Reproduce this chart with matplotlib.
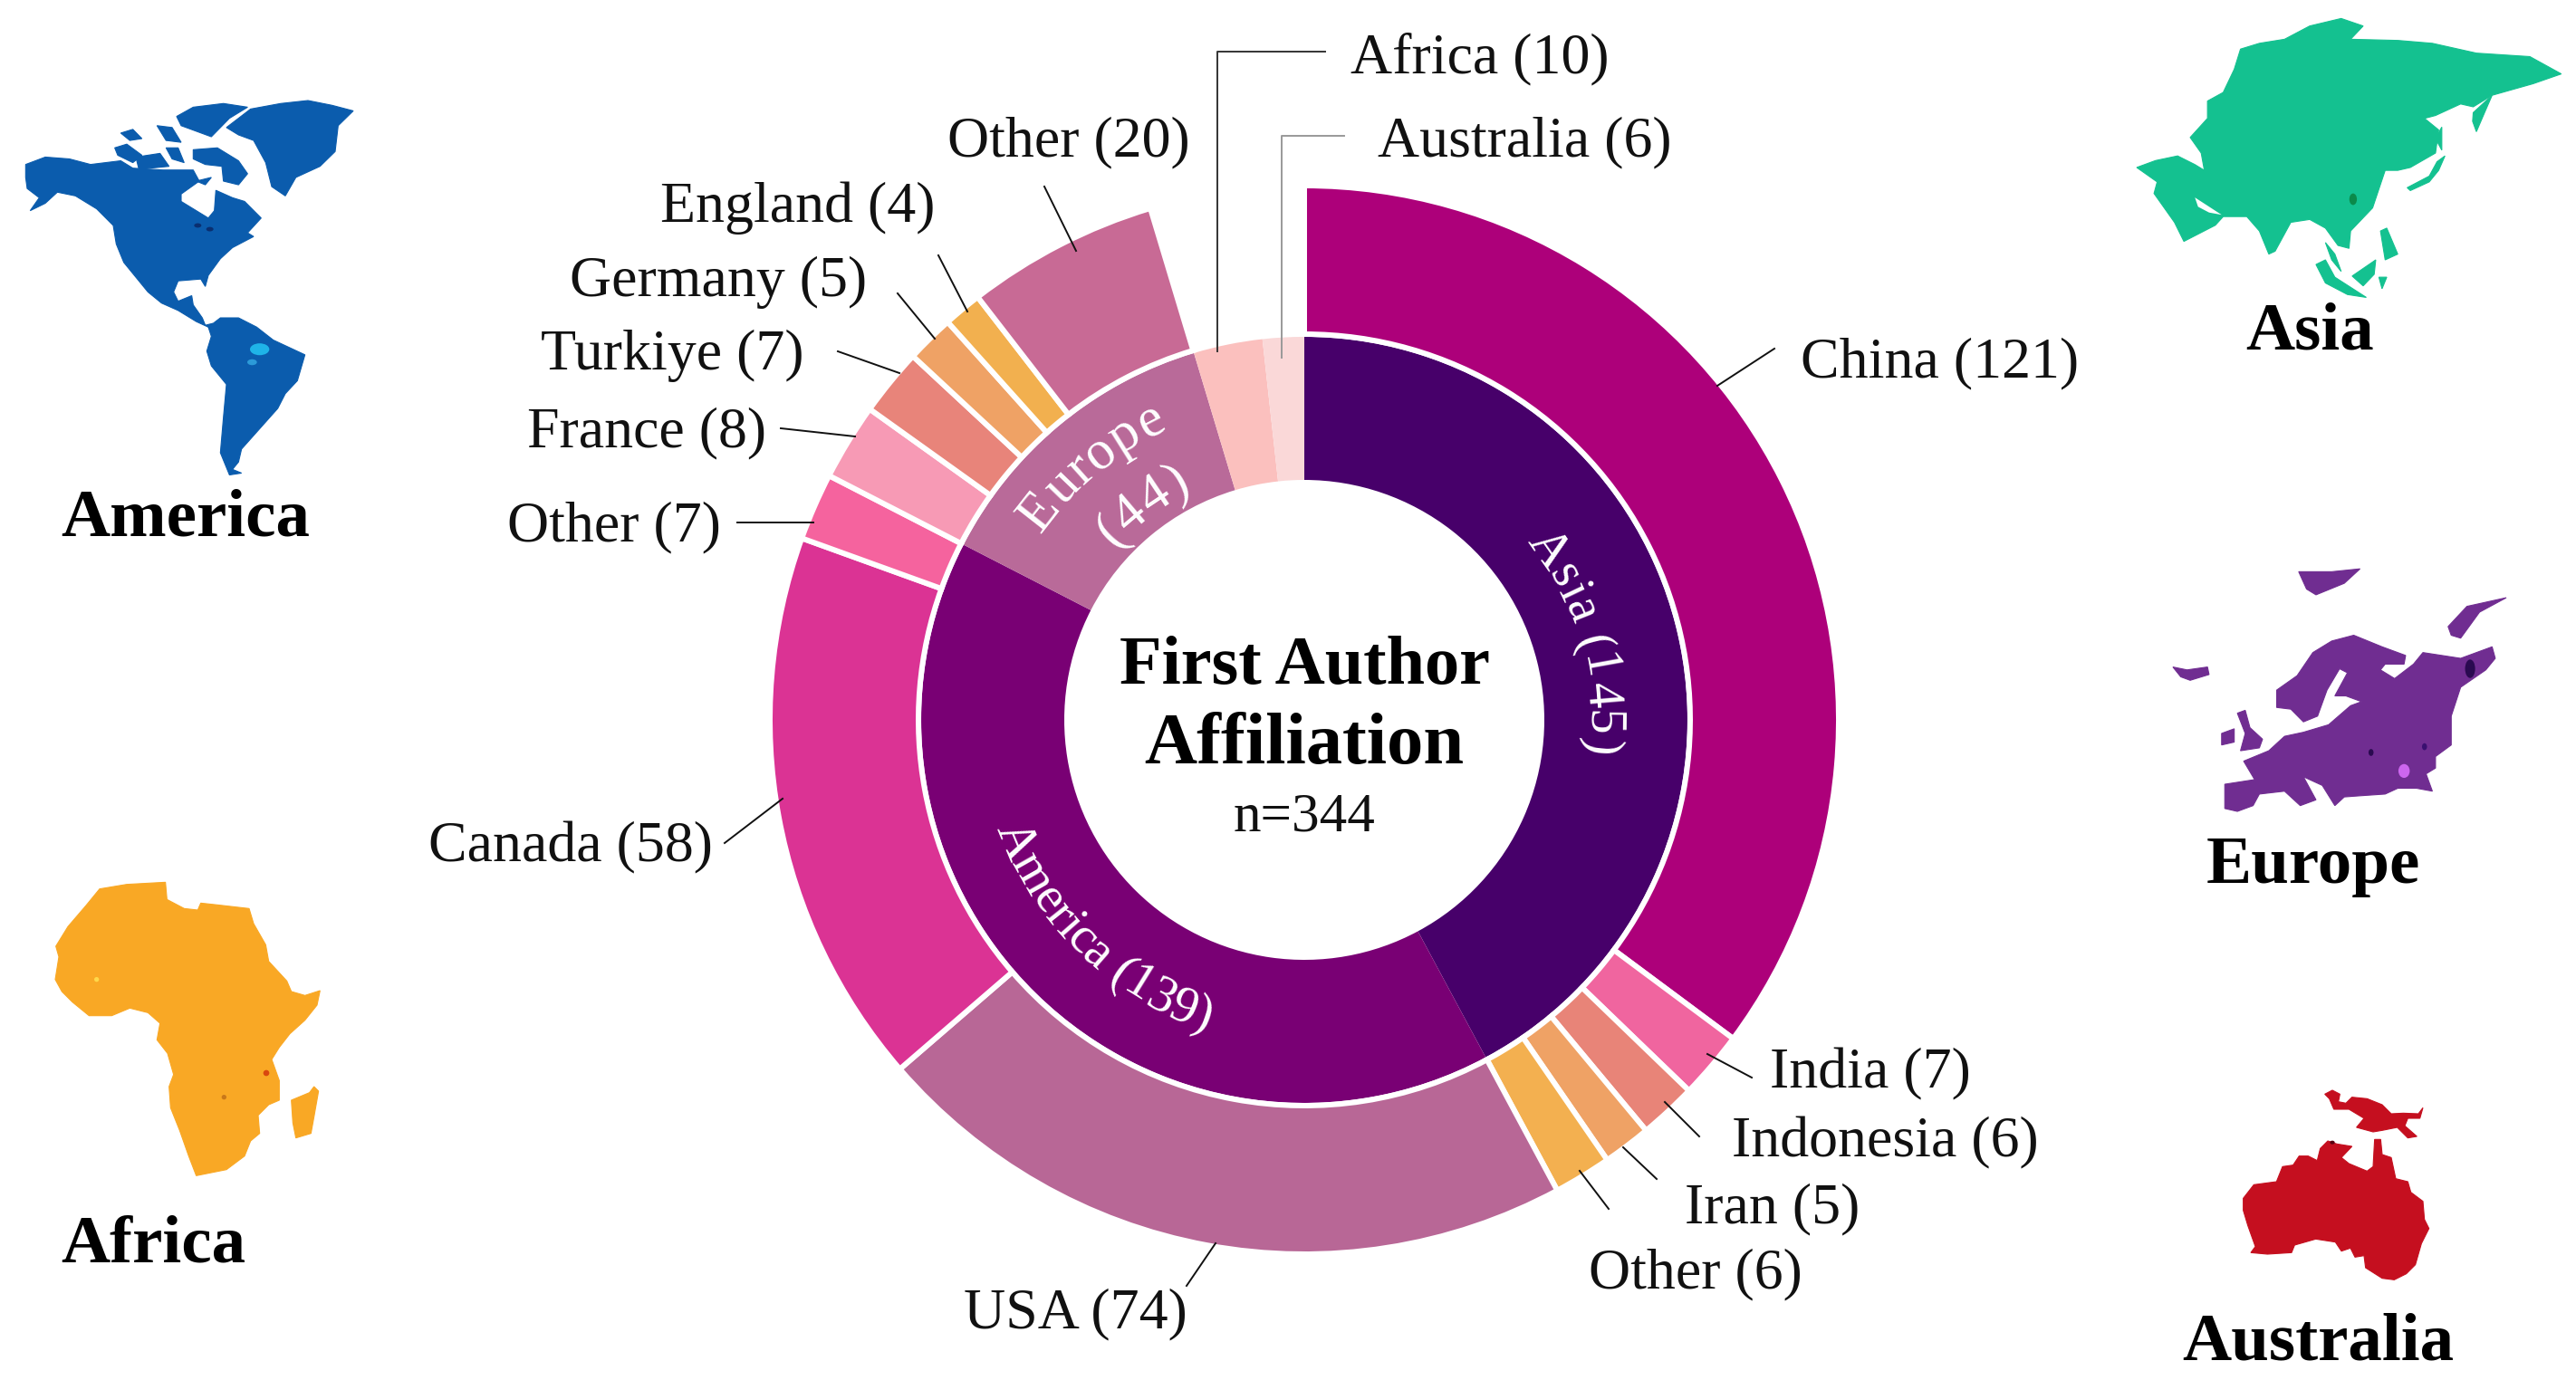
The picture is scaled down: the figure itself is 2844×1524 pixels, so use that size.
import matplotlib
matplotlib.use('Agg')
import numpy as np
import matplotlib.pyplot as plt
from matplotlib.patches import Polygon, Ellipse

W, H = 2844, 1524
FONT = 'Liberation Serif'
TEXT_DY = 5

# ---- data ----
region_names = ['Asia', 'America', 'Europe', 'Africa', 'Australia']
region_values = [145, 139, 44, 10, 6]
region_colors = ['#47006A', '#790074', '#B96A99', '#FBC0BE', '#FAD8D8']

country_names = ['China', 'India', 'Indonesia', 'Iran', 'Other',
                 'USA', 'Canada', 'Other',
                 'France', 'Turkiye', 'Germany', 'England', 'Other']
country_values = [121, 7, 6, 5, 6, 74, 58, 7, 8, 7, 5, 4, 20]
country_colors = ['#AD007A', '#F0659F', '#E88478', '#EFA265', '#F3B050',
                  '#B86796', '#DB3394', '#F5639E',
                  '#F79AB5', '#E8847A', '#EFA265', '#F2B04F', '#C86A95']

# label centres and leader lines, in reference pixels
label_xy = [(2142, 396), (2065, 1181), (2081, 1257), (1957, 1330), (1872, 1402),
            (1187, 1446), (630, 931), (678, 577),
            (714, 473), (742, 388), (793, 307), (881, 225), (1180, 152)]
leaders = [[(1959, 385), (1896, 426)], [(1934, 1190), (1885, 1164)],
           [(1876, 1255), (1838, 1217)], [(1829, 1302), (1792, 1267)],
           [(1776, 1335), (1744, 1293)], [(1310, 1420), (1342, 1373)],
           [(800, 931), (864, 882)], [(814, 577), (898, 577)],
           [(862, 473), (944, 482)], [(925, 388), (993, 412)],
           [(991, 324), (1032, 374)], [(1036, 282), (1068, 344)],
           [(1153, 206), (1188, 277)]]

america_at = (0, 0, 3.0, 2.45)
america = [
    [(85,445),(150,425),(230,430),(300,445),(400,435),(440,455),(540,460),(640,460),(660,490),(600,525),(600,545),
     (650,570),(690,590),(710,570),(715,515),(770,535),(810,545),(865,590),(820,630),(840,640),(770,670),(730,700),
     (690,745),(680,775),(665,755),(590,760),(575,790),(590,815),(635,800),(640,825),(670,860),(680,880),(705,875),
     (690,885),(650,870),(590,840),(535,820),(490,790),(455,755),(410,710),(385,660),(375,610),(320,565),(250,530),
     (190,520),(150,550),(100,570),(130,535),(90,510),(85,480)],
    [(690,885),(730,860),(790,860),(850,885),(905,920),(1010,960),(985,1030),(945,1065),(920,1105),(860,1160),
     (800,1215),(790,1250),(770,1270),(800,1280),(760,1285),(730,1225),(740,1130),(750,1040),(700,990),(685,950),(700,910)],
    [(750,345),(830,295),(930,280),(1020,272),(1100,285),(1170,300),(1120,340),(1110,410),(1060,450),(980,480),
     (945,530),(900,505),(880,440),(840,380),(790,365)],
    [(585,315),(640,290),(740,280),(820,290),(760,320),(700,370),(650,355),(600,340)],
    [(640,405),(720,400),(790,435),(820,470),(790,500),(740,490),(735,450),(680,445),(640,430)],
    [(380,400),(420,390),(470,420),(440,440),(390,420)],
    [(400,360),(440,350),(470,375),(430,380)],
    [(450,425),(530,415),(560,450),(460,458)],
    [(520,340),(570,345),(600,385),(550,380)],
    [(550,400),(590,400),(610,440),(570,430)],
    [(650,490),(700,480),(680,500)],
]
asia_at = (2300, 0, 2.88, 1.568)
asia = [
    [(170,290),(230,278),(300,270),(355,285),(385,295),(375,265),(340,238),(395,205),(395,175),(445,160),(480,120),
     (500,85),(560,75),(640,68),(720,45),(820,32),(890,45),(850,68),(1000,70),(1110,75),(1250,92),(1420,98),(1520,128),
     (1430,145),(1300,165),(1240,185),(1200,180),(1120,200),(1085,205),(1130,225),(1120,265),(1040,290),(1000,295),
     (960,295),(920,360),(850,400),(845,430),(810,425),(770,395),(720,380),(660,385),(610,435),(590,440),(560,400),
     (520,375),(445,375),(420,390),(320,418),(290,385),(225,335),(235,315)],
    [(1240,195),(1300,165),(1280,190),(1250,228),(1238,210)],
    [(1030,325),(1100,305),(1125,280),(1150,270),(1130,295),(1100,315),(1040,330)],
    [(1120,240),(1140,220),(1140,260)],
    [(740,458),(770,450),(800,480),(900,515),(840,510),(770,490)],
    [(770,420),(800,440),(820,470),(790,450)],
    [(855,478),(930,450),(925,475),(890,495)],
    [(945,400),(965,395),(1000,440),(960,450)],
    [(940,480),(965,480),(950,500)],
]
asia_gulf = [(355,342),(440,372),(400,368),(365,358)]
europe_at = (2300, 0, 2.88, 1.568)
europe = [
    [(450,1358),(545,1350),(510,1318),(590,1300),(640,1275),(700,1268),(780,1255),(850,1222),(885,1215),(835,1205),
     (800,1205),(840,1165),(815,1158),(775,1195),(745,1240),(700,1250),(660,1228),(615,1225),(615,1195),(680,1170),
     (730,1130),(790,1110),(860,1100),(950,1120),(1025,1135),(1020,1150),(960,1150),(945,1160),(990,1175),(1050,1150),
     (1080,1130),(1200,1140),(1300,1120),(1310,1140),(1280,1160),(1200,1190),(1170,1240),(1170,1290),(1120,1310),
     (1120,1330),(1090,1340),(1110,1370),(1060,1365),(1000,1365),(960,1375),(880,1378),(830,1380),(800,1395),(760,1360),
     (700,1345),(740,1385),(690,1395),(640,1370),(560,1375),(540,1395),(490,1405),(450,1400)],
    [(285,1155),(330,1160),(395,1155),(400,1168),(340,1178),(310,1172)],
    [(490,1235),(515,1230),(530,1260),(570,1280),(560,1295),(500,1300),(515,1270)],
    [(440,1270),(480,1262),(480,1285),(440,1290)],
    [(685,990),(790,990),(880,985),(830,1010),(740,1030),(710,1020)],
    [(1160,1085),(1220,1050),(1345,1035),(1260,1060),(1200,1105),(1170,1100)],
]
africa_at = (0, 940, 3.0, 3.0)
africa = [
    [(330,125),(420,110),(548,103),(553,160),(610,190),(655,195),(665,172),(720,178),(825,190),(840,240),(880,310),
     (890,365),(950,430),(965,465),(1010,478),(1060,462),(1050,510),(1010,560),(960,605),(925,650),(900,690),(925,760),
     (925,825),(890,840),(855,875),(860,935),(830,960),(810,1010),(750,1055),(650,1075),(625,1010),(595,925),(565,850),
     (560,780),(575,740),(555,670),(520,625),(530,570),(490,535),(430,520),(370,545),(295,545),(240,500),(205,465),
     (183,425),(195,350),(185,315),(225,250),(285,180)],
    [(965,825),(1025,800),(1040,780),(1055,795),(1040,880),(1030,935),(980,950),(970,900)],
]
australia_at = (2380, 1180, 3.0, 3.0)
australia = [
    [(290,430),(325,385),(400,375),(420,325),(455,320),(475,290),(505,290),(535,305),(545,265),(570,240),(600,250),
     (650,258),(615,295),(640,315),(700,340),(720,325),(725,235),(745,235),(750,285),(780,295),(795,365),(835,375),
     (845,410),(885,440),(890,500),(905,530),(880,580),(860,650),(830,680),(790,700),(750,695),(695,660),(690,620),
     (660,625),(645,595),(615,605),(595,575),(530,565),(460,585),(450,610),(370,615),(315,610),(330,590),(305,520),(290,470)],
    [(560,85),(585,72),(610,85),(605,110),(630,115),(650,95),(700,100),(750,120),(780,150),(820,148),(870,150),(885,130),
     (875,165),(835,165),(825,190),(865,225),(835,230),(800,195),(750,205),(720,210),(665,195),(690,165),(640,135),
     (590,135),(575,100)],
]

maps = [(america, america_at, '#0B5CAD'), (asia, asia_at, '#14C190'), (europe, europe_at, '#702D91'),
        (africa, africa_at, '#F9A825'), (australia, australia_at, '#C50F1F')]
spots = [(america_at, 860, 945, 16, 8, '#1FB4E8'), (america_at, 835, 980, 8, 4, '#2C9AD8'),
         (america_at, 655, 610, 6, 3, '#0A2F70'), (america_at, 695, 620, 6, 3, '#0A2F70'),
         (asia_at, 858, 345, 6, 5, '#0B8A4A'),
         (europe_at, 1230, 1158, 8, 8, '#2A0A50'), (europe_at, 1020, 1335, 9, 6, '#CC66EE'),
         (europe_at, 915, 1303, 4, 3, '#2A0A50'), (europe_at, 1085, 1293, 4, 3, '#3A1070'),
         (africa_at, 320, 425, 4, 4, '#FFD84A'), (africa_at, 882, 735, 5, 5, '#D9480F'),
         (africa_at, 742, 815, 4, 4, '#C9781A'), (australia_at, 585, 245, 4, 3, '#5A0010')]
continent_labels = [('America', 205, 568), ('Asia', 2550, 363), ('Europe', 2554, 952),
                    ('Africa', 169, 1370), ('Australia', 2559, 1478)]

fig = plt.figure(figsize=(W / 100, H / 100), dpi=100)
ax = fig.add_axes([0, 0, 1, 1])
cx, cy = 1440, H - 795


def flip(p):
    return p[0], H - p[1]


def place(points, at):
    ox, oy, sx, sy = at
    return [(ox + x / sx, H - (oy + y / sy)) for x, y in points]


# inner ring, then the outer one with a blank stretch for Africa and Australia
ax.pie(region_values, radius=423, center=(cx, cy), colors=region_colors, startangle=90, counterclock=False,
       wedgeprops=dict(width=158, linewidth=0))
blank = region_values[3] + region_values[4]
outer, _ = ax.pie(country_values + [blank], radius=590, center=(cx, cy), colors=country_colors + ['white'],
                  startangle=90, counterclock=False,
                  wedgeprops=dict(width=164, edgecolor='white', linewidth=4.3))
outer[-1].set_visible(False)

ax.set_xlim(0, W)
ax.set_ylim(0, H)
ax.set_aspect('equal')
ax.axis('off')

for name, value, xy, line in zip(country_names, country_values, label_xy, leaders):
    ax.text(xy[0], H - xy[1] - TEXT_DY, f'{name} ({value})', family=FONT, fontsize=46, ha='center', va='center',
            color='#111111')
    xs, ys = zip(*map(flip, line))
    ax.plot(xs, ys, color='#111111', lw=1.4)

# the two inner slices without an outer slice get elbow leaders
for name, value, xy, line, col in [
        (region_names[3], region_values[3], (1634, 60), [(1463, 57), (1344, 57), (1344, 388)], '#333333'),
        (region_names[4], region_values[4], (1683, 152), [(1484, 150), (1415, 150), (1415, 395)], '#999999')]:
    ax.text(xy[0], H - xy[1] - TEXT_DY, f'{name} ({value})', family=FONT, fontsize=46, ha='center', va='center',
            color='#111111')
    xs, ys = zip(*map(flip, line))
    ax.plot(xs, ys, color=col, lw=1.4)

renderer = fig.canvas.get_renderer()


def arc_text(s, radius, mid_deg, clockwise=True, size=41, spacing=1.0):
    # one text per character, angles measured clockwise from the top
    widths = []
    for ch in s:
        t = ax.text(0, 0, 'n' + ch + 'n', family=FONT, fontsize=size)
        w3 = t.get_window_extent(renderer).width
        t.set_text('nn')
        widths.append(w3 - t.get_window_extent(renderer).width)
        t.remove()
    widths = np.array(widths) * spacing
    pos = np.cumsum(widths) - widths / 2 - widths.sum() / 2
    sign = 1 if clockwise else -1
    for ch, p in zip(s, pos):
        a = mid_deg + sign * np.degrees(p / radius)
        rad = np.radians(a)
        x = cx + radius * np.sin(rad)
        y = cy + radius * np.cos(rad)
        rot = -a if clockwise else 180 - a
        ax.text(x, y, ch, family=FONT, fontsize=size, color='white', rotation=rot, rotation_mode='anchor',
                ha='center', va='baseline')


arc_text(f'{region_names[0]} ({region_values[0]})', 314, 74, spacing=1.04)
arc_text(f'{region_names[1]} ({region_values[1]})', 360, 224, clockwise=False)
arc_text(region_names[2], 356, -40, size=44, spacing=1.06)
arc_text(f'({region_values[2]})', 282, -37, size=44, spacing=1.06)

ax.text(1440, H - 731 - TEXT_DY, 'First Author', family=FONT, fontsize=55, fontweight='bold', ha='center', va='center',
        color='black')
ax.text(1440, H - 818 - TEXT_DY, 'Affiliation', family=FONT, fontsize=58, fontweight='bold', ha='center', va='center',
        color='black')
ax.text(1440, H - 898 - TEXT_DY, f'n={sum(region_values)}', family=FONT, fontsize=44, ha='center', va='center',
        color='#111111')

for shapes, at, col in maps:
    for shape in shapes:
        ax.add_patch(Polygon(place(shape, at), closed=True, facecolor=col, edgecolor=col, lw=0.8))
ax.add_patch(Polygon(place(asia_gulf, asia_at), closed=True, facecolor='white', edgecolor='none'))
for at, x, y, rx, ry, col in spots:
    px, py = place([(x, y)], at)[0]
    ax.add_patch(Ellipse((px, py), 2 * rx / at[2] * 2, 2 * ry / at[3] * 2, facecolor=col, edgecolor='none'))

for name, x, y in continent_labels:
    ax.text(x, H - y - TEXT_DY, name, family=FONT, fontsize=54, fontweight='bold', ha='center', va='center',
            color='black')

fig.savefig('out.png', dpi=100, facecolor='white')
